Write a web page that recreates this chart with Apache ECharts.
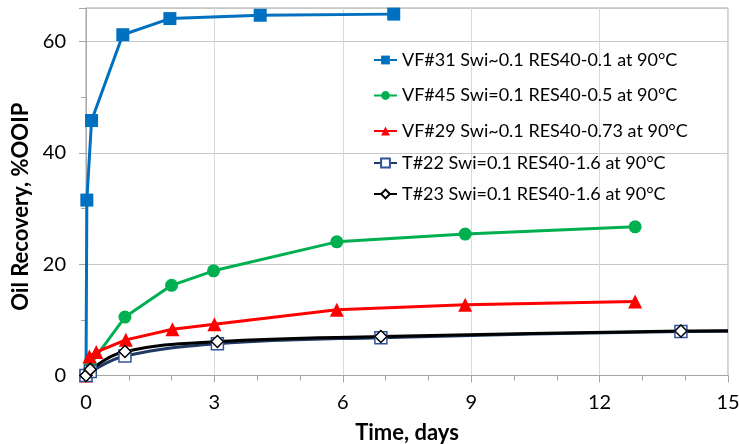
<!DOCTYPE html>
<html><head><meta charset="utf-8">
<script src="https://cdn.jsdelivr.net/npm/echarts@6/dist/echarts.min.js"></script>
<style>html,body{margin:0;padding:0;background:#fff}#c{width:739px;height:444px}</style>
</head><body><div id="c"></div>
<script>
var seriesNames = [
  'VF#31 Swi~0.1 RES40-0.1 at 90°C',
  'VF#45 Swi=0.1 RES40-0.5 at 90°C',
  'VF#29 Swi~0.1 RES40-0.73 at 90°C',
  'T#22 Swi=0.1 RES40-1.6 at 90°C',
  'T#23 Swi=0.1 RES40-1.6 at 90°C'
];
var vf31 = [[0,0],[0.02,31.5],[0.13,45.8],[0.86,61.2],[1.96,64.1],[4.07,64.7],[7.19,64.9]];
var vf45 = [[0,0],[0.1,2.0],[0.91,10.5],[2.0,16.2],[2.98,18.8],[5.86,24.0],[8.86,25.4],[12.83,26.7]];
var vf29 = [[0,0],[0.08,3.4],[0.24,4.2],[0.93,6.4],[2.02,8.3],[3.0,9.2],[5.86,11.8],[8.86,12.7],[12.83,13.3]];
var t22 = [[0,0],[0.1,0.7],[0.91,3.5],[3.07,5.7],[6.89,6.8],[13.9,7.9]];
var t22End = [15,7.95];
var t23 = [[0,0],[0.1,1.1],[0.91,4.3],[3.07,6.1],[6.89,7.0],[13.9,8.0]];
var t23End = [15,8.05];
var xTicks = [0,3,6,9,12,15];
var yTicks = [0,20,40,60];

var font = 'Lato';
function withEnd(arr, end){
  return arr.map(function(p){return p;}).concat([{value:end, symbol:'none'}]);
}
var chart = echarts.init(document.getElementById('c'), null, {renderer:'canvas'});
var legendText = {fontFamily:font, fontSize:18, color:'#000', lineHeight:20};
chart.setOption({
  animation:false,
  backgroundColor:'#fff',
  textStyle:{fontFamily:font},
  grid:{left:86, right:11, top:8, bottom:68.5, show:true, borderColor:'#a6a6a6', borderWidth:1,
        containLabel:false, outerBoundsMode:'none'},
  legend:[{
    data:seriesNames.slice(0,3), orient:'vertical', left:373, top:50, itemGap:15.5, padding:0,
    itemWidth:23, itemHeight:11, textStyle:legendText
  },{
    data:seriesNames.slice(3), orient:'vertical', left:373, top:153, itemGap:11, padding:0,
    itemWidth:23, itemHeight:11, textStyle:legendText
  }],
  xAxis:{
    type:'value', min:xTicks[0], max:xTicks[xTicks.length-1], interval:3,
    name:'Time, days', nameLocation:'middle', nameGap:46,
    nameTextStyle:{fontFamily:font, fontSize:22, fontWeight:'bold', color:'#000'},
    axisLine:{show:true, lineStyle:{color:'#a6a6a6'}},
    axisTick:{show:true, length:7, lineStyle:{color:'#a6a6a6'}},
    minorTick:{show:true, splitNumber:3, length:5, lineStyle:{color:'#a6a6a6'}},
    axisLabel:{fontFamily:font, fontSize:20, color:'#000', margin:17},
    splitLine:{show:true, lineStyle:{color:'#d9d9d9'}}
  },
  yAxis:{
    type:'value', min:0, max:66, interval:20,
    name:'Oil Recovery, %OOIP', nameLocation:'middle', nameGap:53,
    nameTextStyle:{fontFamily:font, fontSize:22, fontWeight:'bold', color:'#000', padding:[0,30,0,0]},
    axisLine:{show:true, lineStyle:{color:'#a6a6a6'}},
    axisTick:{show:true, length:7, lineStyle:{color:'#a6a6a6'}},
    minorTick:{show:true, splitNumber:2, length:5, lineStyle:{color:'#a6a6a6'}},
    axisLabel:{fontFamily:font, fontSize:20, color:'#000', margin:20, showMaxLabel:false},
    splitLine:{show:true, lineStyle:{color:'#c8c8c8'}}
  },
  series:[
    {name:seriesNames[0], type:'line', data:vf31, symbol:'rect', symbolSize:13,
     lineStyle:{color:'#0070C0', width:3}, itemStyle:{color:'#0070C0'}},
    {name:seriesNames[1], type:'line', data:vf45, symbol:'circle', symbolSize:13,
     lineStyle:{color:'#00B050', width:3}, itemStyle:{color:'#00B050'}},
    {name:seriesNames[2], type:'line', data:vf29, symbol:'triangle', symbolSize:14,
     lineStyle:{color:'#FF0000', width:3}, itemStyle:{color:'#FF0000'}},
    {name:seriesNames[3], type:'line', data:withEnd(t22, t22End), symbol:'rect', symbolSize:12, smooth:0.4,
     lineStyle:{color:'#1F3864', width:3}, itemStyle:{color:'#fff', borderColor:'#2F5597', borderWidth:1.5}},
    {name:seriesNames[4], type:'line', data:withEnd(t23, t23End), symbol:'diamond', symbolSize:12, smooth:0.4,
     lineStyle:{color:'#000', width:3}, itemStyle:{color:'#fff', borderColor:'#000', borderWidth:1.5}}
  ]
});
</script></body></html>
